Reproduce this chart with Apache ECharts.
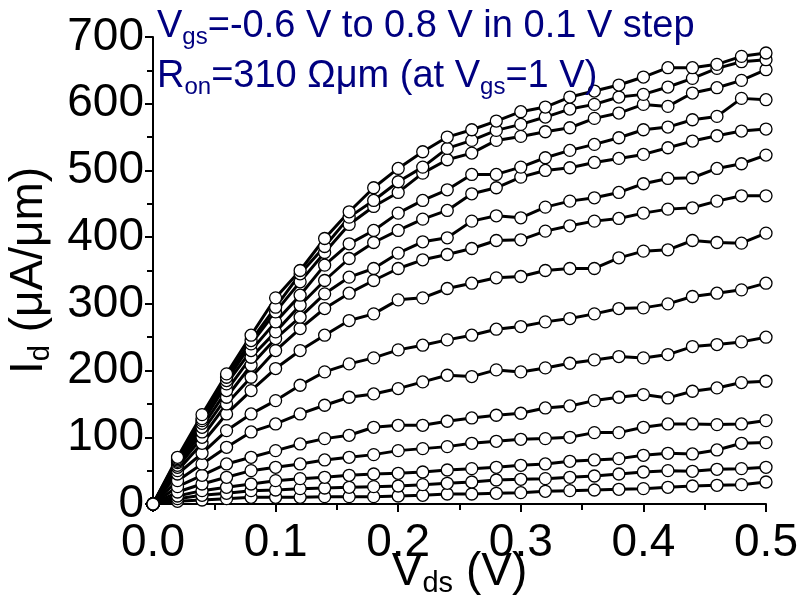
<!DOCTYPE html>
<html><head><meta charset="utf-8">
<script src="https://cdn.jsdelivr.net/npm/echarts@6/dist/echarts.min.js"></script>
<style>html,body{margin:0;padding:0;background:#fff}#c{width:799px;height:604px}</style>
</head><body><div id="c"></div>
<script>
// Drain voltage points (V)
const vds = [0,0.02,0.04,0.06,0.08,0.10,0.12,0.14,0.16,0.18,0.20,0.22,0.24,0.26,0.28,0.30,0.32,0.34,0.36,0.38,0.40,0.42,0.44,0.46,0.48,0.50];
// Gate voltages (V)
const vgs = ['-0.6','-0.5','-0.4','-0.3','-0.2','-0.1','0.0','0.1','0.2','0.3','0.4','0.5','0.6','0.7','0.8'];
// Drain current (uA/um) per gate voltage
const idM06 = [0,4,6,8,10,10,10,11,11,11,12,13,15,15,16,17,19,20,21,22,23,25,27,28,29,33];
const idM05 = [0,8,13,16,20,21,23,24,25,26,27,29,31,33,36,37,38,40,42,45,48,50,49,52,53,55];
const idM04 = [0,12,20,25,30,35,38,40,43,45,46,48,51,53,55,58,60,64,66,68,73,76,75,81,91,92];
const idM03 = [0,18,30,40,50,55,60,66,70,74,80,83,86,91,94,97,98,100,107,107,115,120,120,119,120,125];
const idM02 = [0,26,43,60,70,80,90,98,103,115,118,118,124,129,133,136,144,147,155,160,164,159,169,174,182,184];
const idM01 = [0,35,60,85,108,120,135,148,160,165,173,183,193,191,201,198,204,211,216,221,219,224,236,239,243,250];
const idP00 = [0,45,76,110,135,155,178,198,210,219,231,238,246,253,262,266,273,278,285,293,294,300,311,316,321,331];
const idP01 = [0,50,91,135,170,203,230,253,275,285,306,309,323,331,339,341,350,353,353,369,379,381,395,392,391,406];
const idP02 = [0,55,100,150,190,230,263,293,316,335,353,366,374,383,395,396,409,417,424,428,436,442,444,454,462,462];
const idP03 = [0,58,108,160,208,248,280,315,340,353,376,393,399,424,432,429,445,454,459,467,480,488,489,503,510,523];
const idP04 = [0,62,115,170,220,258,298,335,368,392,410,427,440,465,474,490,500,504,512,518,524,534,544,552,559,562];
const idP05 = [0,64,121,180,230,273,313,358,390,410,436,455,471,494,494,505,519,530,539,549,561,565,576,581,608,606];
const idP06 = [0,66,125,185,240,288,333,377,419,446,467,496,516,526,545,551,558,564,578,586,599,596,616,624,635,651];
const idP07 = [0,68,128,190,245,295,345,386,430,455,483,505,533,545,560,569,580,592,599,610,614,625,638,653,663,666];
const idP08 = [0,70,134,195,253,309,350,398,438,474,503,528,550,561,574,588,595,610,619,628,640,654,654,659,671,676];
const curves = [idM06,idM05,idM04,idM03,idM02,idM01,idP00,idP01,idP02,idP03,idP04,idP05,idP06,idP07,idP08];
// Axis ticks
const xTicks = {min:0, max:0.5, step:0.1};
const yTicks = {min:0, max:700, step:100};

const FF = 'Liberation Sans, Arial, sans-serif';
const NAVY = '#000080';
const chart = echarts.init(document.getElementById('c'), null, {renderer:'canvas'});

const series = curves.map((arr, i) => ({
  name: 'Vgs=' + vgs[i] + ' V',
  type: 'line',
  data: arr.map((v, j) => [vds[j], v]),
  symbol: 'circle',
  symbolSize: 12,
  clip: false,
  lineStyle: {color:'#000', width:3},
  itemStyle: {color:'#fff', borderColor:'#000', borderWidth:1.3},
  emphasis: {disabled:true},
  z: 2
}));

const annRich = {
  a: {fontSize:38, lineHeight:44, color:NAVY, fontFamily:FF, fontWeight:'normal'},
  s: {fontSize:24, lineHeight:18, verticalAlign:'bottom', color:NAVY, fontFamily:FF, fontWeight:'normal'}
};
const nameRich = {
  a:{fontSize:46, lineHeight:52, color:'#000', fontFamily:FF},
  s:{fontSize:29, lineHeight:20, verticalAlign:'bottom', color:'#000', fontFamily:FF}
};

chart.setOption({
  animation: false,
  backgroundColor: '#fff',
  title: [
    {left:152, top:0, text:'{a|V}{s|gs}{a|=-0.6 V to 0.8 V in 0.1 V step}', textStyle:{fontWeight:'normal', rich:annRich}},
    {left:152, top:50, text:'{a|R}{s|on}{a|=310 Ωμm (at V}{s|gs}{a|=1 V)}', textStyle:{fontWeight:'normal', rich:annRich}}
  ],
  grid: {left:153, right:33, top:37, bottom:100, containLabel:false, outerBoundsMode:'none'},
  xAxis: {
    type:'value', min:xTicks.min, max:xTicks.max, interval:xTicks.step,
    name:'{a|V}{s|ds}{a| (V)}', nameLocation:'middle', nameGap:42, nameMoveOverlap:false,
    nameTextStyle:{rich:nameRich},
    axisLine:{show:true, onZero:false, lineStyle:{color:'#000', width:2}},
    axisTick:{show:true, inside:false, length:8, lineStyle:{color:'#000', width:2}},
    minorTick:{show:true, splitNumber:2, length:6, lineStyle:{color:'#000', width:2}},
    splitLine:{show:false},
    axisLabel:{fontSize:46, color:'#000', fontFamily:FF, margin:16,
      formatter:v => v.toFixed(1)}
  },
  yAxis: {
    type:'value', min:yTicks.min, max:yTicks.max, interval:yTicks.step,
    name:'{a|I}{s|d}{a| (μA/μm)}', nameLocation:'middle', nameGap:98, nameRotate:90, nameMoveOverlap:false,
    nameTextStyle:{rich:nameRich},
    axisLine:{show:true, lineStyle:{color:'#000', width:2}},
    axisTick:{show:true, inside:false, length:8, lineStyle:{color:'#000', width:2}},
    minorTick:{show:true, splitNumber:2, length:6, lineStyle:{color:'#000', width:2}},
    splitLine:{show:false},
    axisLabel:{fontSize:46, color:'#000', fontFamily:FF, margin:9}
  },
  series: series
});
</script>
</body></html>
